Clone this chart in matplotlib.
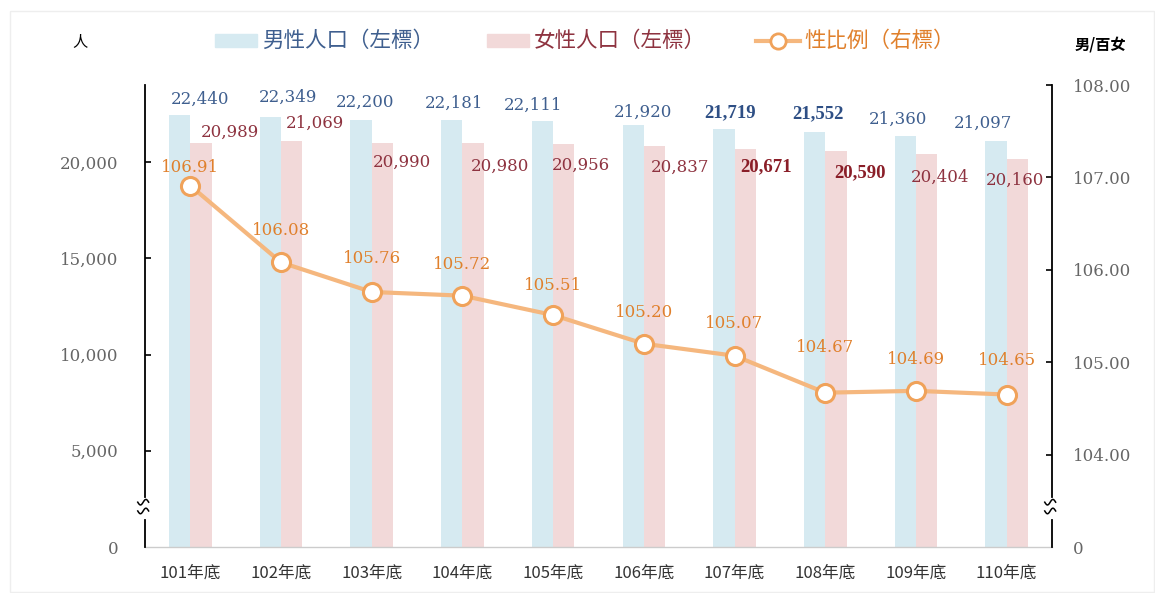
import numpy as np
import matplotlib
matplotlib.use('Agg')
import matplotlib.pyplot as plt
from matplotlib.patches import Rectangle
from matplotlib.lines import Line2D

plt.rcParams['font.family'] = ['DejaVu Serif', 'Noto Sans CJK TC']

# data
years = ['101年底', '102年底', '103年底', '104年底', '105年底',
         '106年底', '107年底', '108年底', '109年底', '110年底']
male = [22440, 22349, 22200, 22181, 22111, 21920, 21719, 21552, 21360, 21097]
female = [20989, 21069, 20990, 20980, 20956, 20837, 20671, 20590, 20404, 20160]
ratio = [106.91, 106.08, 105.76, 105.72, 105.51, 105.20, 105.07, 104.67, 104.69, 104.65]
bold_idx = [6, 7]

# label offsets in pixels (dx, dy)
male_off = [(10, 16), (7, 19), (-7, 17), (-8, 17), (-20, 16),
            (-1, 13), (-4, 16), (-7, 18), (-18, 16), (-24, 18)]
female_off = [(40, 11), (34, 18), (30, -19), (38, -23), (28, -22),
              (36, -21), (32, -18), (35, -22), (24, -23), (8, -21)]
ratio_off = [18, 32, 33, 31, 30, 31, 32, 45, 31, 34]

c_male = '#D6EAF1'
c_female = '#F2D9D9'
c_line = '#F5B77E'
c_edge = '#F0A25A'
t_male = '#3F5F8F'
t_female = '#8E3340'
t_ratio = '#E0802C'
grey = '#666666'

W, H = 1155, 593
fig = plt.figure(figsize=(W / 100, H / 100), dpi=100)
ax = fig.add_axes([145 / W, 1 - 547 / H, (1052 - 145) / W, (547 - 85) / H])
ax2 = ax.twinx()

x = np.arange(len(years))
bw = 0.235
ax.bar(x - bw / 2, male, bw, color=c_male, zorder=1)
ax.bar(x + bw / 2, female, bw, color=c_female, zorder=1)
ax.set_xlim(-0.5, len(years) - 0.5)
ax.set_ylim(0, 24000)
ax.set_yticks([0, 5000, 10000, 15000, 20000])
ax.set_yticklabels(['0', '5,000', '10,000', '15,000', '20,000'])

ax2.plot(x, ratio, color=c_line, lw=3, marker='o', ms=13, mfc='white',
         mec=c_edge, mew=2.2, zorder=5)
ax2.set_ylim(103, 108)
ax2.set_yticks([103, 104, 105, 106, 107, 108])
ax2.set_yticklabels(['0', '104.00', '105.00', '106.00', '107.00', '108.00'])

for a in (ax, ax2):
    for s in ['left', 'right', 'top', 'bottom']:
        a.spines[s].set_visible(False)
ax.set_xticks(x)
ax.set_xticklabels(years, family=['Noto Sans CJK TC'], fontsize=12, color='#333333')
ax.tick_params(axis='x', length=0, pad=13)
ax.tick_params(axis='y', direction='in', length=4, width=1.2, color='black',
               labelsize=12, labelcolor=grey, pad=19)
ax2.tick_params(axis='y', direction='in', length=4, width=1.2, color='black',
                labelsize=12, labelcolor=grey, pad=15)
# no tick mark in the break zone
ax.yaxis.get_major_ticks()[0].tick1line.set_visible(False)
ax2.yaxis.get_major_ticks()[0].tick2line.set_visible(False)

# axis lines with break marks
ax.plot([0, 1], [0, 0], transform=ax.transAxes, color='#cccccc', lw=1, clip_on=False)
for xa in (0, 1):
    ax.plot([xa, xa], [0, 0.058], transform=ax.transAxes, color='black', lw=1.3, clip_on=False)
    ax.plot([xa, xa], [0.108, 1], transform=ax.transAxes, color='black', lw=1.3, clip_on=False)
    t = np.linspace(-1, 1, 30)
    for yb in (0.097, 0.078):
        ax.plot(xa - 0.002 + t * 0.006, yb + 0.006 * np.sin(t * np.pi), transform=ax.transAxes,
                color='black', lw=1.1, clip_on=False)

# value labels
for i in range(len(years)):
    fw = 'bold' if i in bold_idx else 'normal'
    fam = ['Liberation Serif'] if i in bold_idx else ['DejaVu Serif']
    fs = 13.5 if i in bold_idx else 12
    ax.annotate(f'{male[i]:,}', (x[i], male[i]), xytext=male_off[i],
                textcoords='offset pixels', ha='center', va='center',
                color='#2E4F85' if i in bold_idx else t_male, fontsize=fs,
                fontweight=fw, family=fam, zorder=6)
    ax.annotate(f'{female[i]:,}', (x[i], female[i]), xytext=female_off[i],
                textcoords='offset pixels', ha='center', va='center',
                color='#8A1E28' if i in bold_idx else t_female, fontsize=fs,
                fontweight=fw, family=fam, zorder=6)
    ax2.annotate(f'{ratio[i]:.2f}', (x[i], ratio[i]), xytext=(0, ratio_off[i]),
                 textcoords='offset pixels', ha='center', va='center',
                 color=t_ratio, fontsize=12, zorder=6)

# legend
cjk = ['Noto Sans CJK TC']
ly = 1 - 41 / H
fig.patches.append(Rectangle((215 / W, 1 - 47 / H), 42 / W, 13 / H,
                             transform=fig.transFigure, color=c_male))
fig.text(262 / W, ly, '男性人口（左標）', family=cjk, fontsize=15.5,
         color=t_male, va='center')
fig.patches.append(Rectangle((487 / W, 1 - 47 / H), 42 / W, 13 / H,
                             transform=fig.transFigure, color=c_female))
fig.text(534 / W, ly, '女性人口（左標）', family=cjk, fontsize=15.5,
         color=t_female, va='center')
fig.lines.append(Line2D([756 / W, 800 / W], [ly, ly],
                        transform=fig.transFigure, color=c_line, lw=3))
fig.lines.append(Line2D([778 / W], [ly], transform=fig.transFigure,
                        marker='o', ms=11, mfc='white', mec=c_edge, mew=2))
fig.text(804 / W, ly, '性比例（右標）', family=cjk, fontsize=15.5,
         color=t_ratio, va='center')

fig.text(80 / W, 1 - 42 / H, '人', family=cjk, fontsize=11, color='black',
         ha='center', va='center')
fig.text(1100 / W, 1 - 44 / H, '男/百女', family=cjk, fontsize=11,
         fontweight='bold', color='black', ha='center', va='center')

fig.patches.append(Rectangle((10 / W, 0.002), 1 - 11 / W, 1 - 12 / H,
                             transform=fig.transFigure, fill=False,
                             edgecolor='#eeeeee', lw=1))

fig.savefig('out.png', dpi=100)
